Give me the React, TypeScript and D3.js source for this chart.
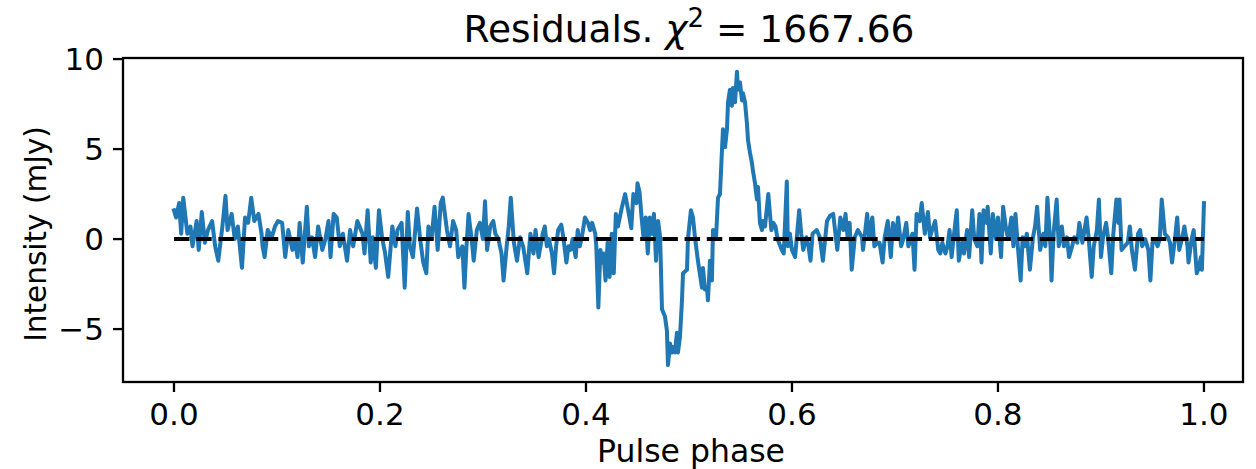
import React from "react";
import * as d3 from "d3";

// Pulse phase of each residual sample
const phase = [
  0.000, 0.002, 0.005, 0.007, 0.009, 0.013, 0.016, 0.018, 0.022, 0.024,
  0.027, 0.030, 0.033, 0.037, 0.040, 0.043, 0.047, 0.050, 0.052, 0.056,
  0.059, 0.062, 0.066, 0.069, 0.072, 0.075, 0.078, 0.082, 0.085, 0.086,
  0.088, 0.091, 0.095, 0.098, 0.101, 0.105, 0.108, 0.111, 0.115, 0.117,
  0.120, 0.122, 0.125, 0.129, 0.131, 0.134, 0.137, 0.140, 0.144, 0.147,
  0.150, 0.152, 0.155, 0.158, 0.161, 0.164, 0.168, 0.171, 0.174, 0.178,
  0.183, 0.185, 0.188, 0.191, 0.193, 0.196, 0.199, 0.202, 0.205, 0.208,
  0.212, 0.215, 0.217, 0.221, 0.224, 0.227, 0.229, 0.232, 0.236, 0.239,
  0.242, 0.245, 0.247, 0.250, 0.253, 0.256, 0.259, 0.261, 0.265, 0.268,
  0.271, 0.274, 0.276, 0.280, 0.282, 0.284, 0.286, 0.289, 0.291, 0.294,
  0.297, 0.300, 0.302, 0.304, 0.307, 0.310, 0.312, 0.315, 0.318, 0.320,
  0.323, 0.325, 0.327, 0.330, 0.333, 0.336, 0.339, 0.343, 0.346, 0.349,
  0.351, 0.354, 0.358, 0.360, 0.362, 0.364, 0.367, 0.369, 0.371, 0.373,
  0.376, 0.378, 0.381, 0.383, 0.385, 0.387, 0.390, 0.392, 0.394, 0.396,
  0.399, 0.402, 0.404, 0.406, 0.409, 0.410, 0.412, 0.414, 0.416, 0.417,
  0.419, 0.421, 0.423, 0.425, 0.427, 0.429, 0.431, 0.435, 0.438, 0.441,
  0.444, 0.446, 0.449, 0.450, 0.452, 0.454, 0.456, 0.458, 0.460, 0.462,
  0.464, 0.466, 0.468, 0.470, 0.472, 0.4738, 0.4767, 0.4786, 0.4796, 0.4816,
  0.4835, 0.4845, 0.4864, 0.4883, 0.4893, 0.4913, 0.4932, 0.4942, 0.4981, 0.4990,
  0.5019, 0.5039, 0.5058, 0.5087, 0.5126, 0.5136, 0.5155, 0.5175, 0.5184, 0.5204,
  0.5223, 0.5233, 0.5262, 0.5282, 0.5301, 0.5320, 0.5330, 0.5350, 0.5369, 0.5379,
  0.5398, 0.5417, 0.5427, 0.5447, 0.5466, 0.5476, 0.5495, 0.5515, 0.5524, 0.5544,
  0.5563, 0.5573, 0.5592, 0.5612, 0.5621, 0.5641, 0.5660, 0.5670, 0.5689, 0.5709,
  0.5718, 0.5738, 0.577, 0.580, 0.582, 0.584, 0.586, 0.590, 0.592, 0.595,
  0.596, 0.598, 0.600, 0.603, 0.605, 0.607, 0.609, 0.611, 0.614, 0.616,
  0.618, 0.620, 0.624, 0.627, 0.630, 0.634, 0.637, 0.640, 0.644, 0.647,
  0.650, 0.652, 0.654, 0.656, 0.658, 0.661, 0.664, 0.668, 0.669, 0.673,
  0.675, 0.678, 0.680, 0.683, 0.685, 0.688, 0.690, 0.693, 0.696, 0.698,
  0.701, 0.703, 0.706, 0.708, 0.711, 0.713, 0.717, 0.719, 0.721, 0.724,
  0.726, 0.729, 0.732, 0.734, 0.736, 0.739, 0.742, 0.744, 0.746, 0.749,
  0.751, 0.753, 0.755, 0.757, 0.760, 0.762, 0.765, 0.767, 0.770, 0.772,
  0.775, 0.777, 0.780, 0.782, 0.784, 0.786, 0.789, 0.790, 0.793, 0.795,
  0.798, 0.800, 0.803, 0.805, 0.808, 0.810, 0.813, 0.815, 0.817, 0.819,
  0.822, 0.824, 0.826, 0.828, 0.831, 0.834, 0.836, 0.838, 0.841, 0.844,
  0.846, 0.848, 0.851, 0.852, 0.854, 0.857, 0.859, 0.862, 0.864, 0.867,
  0.869, 0.872, 0.874, 0.877, 0.879, 0.882, 0.884, 0.886, 0.888, 0.891,
  0.893, 0.896, 0.898, 0.900, 0.902, 0.905, 0.907, 0.910, 0.912, 0.915,
  0.917, 0.918, 0.920, 0.923, 0.926, 0.928, 0.930, 0.933, 0.936, 0.938,
  0.940, 0.943, 0.946, 0.948, 0.950, 0.952, 0.955, 0.957, 0.959, 0.962,
  0.965, 0.967, 0.969, 0.972, 0.974, 0.976, 0.979, 0.981, 0.984, 0.985,
  0.988, 0.990, 0.993, 0.995, 0.997, 0.998, 1.000,
];

// Residual intensity (mJy) at each phase
const intensity = [
  1.6, 1.2, 2.0, 0.3, 2.3, 0.3, 0.7, -0.4, 1.0, -0.6,
  1.5, -0.2, 0.5, 1.0, -0.4, -1.2, 0.7, 2.4, 0.5, 1.4,
  0.0, 0.7, -1.6, 1.2, 0.9, 2.3, 1.0, 1.4, 0.3, -0.4,
  -1.0, 0.5, 0.1, 0.7, 1.0, 0.9, -1.0, 0.5, -0.6, 0.0,
  -1.0, 0.9, -1.3, 1.8, -0.4, 0.1, -1.0, 0.7, -0.6, 0.0,
  1.0, -1.0, 1.4, 1.2, -0.4, 0.3, -1.2, 0.5, -0.4, 1.0,
  0.3, -0.8, 1.6, -1.3, 0.1, -1.6, 1.6, 0.1, -0.8, -2.1,
  0.7, -0.4, 0.5, 0.9, -2.7, 1.5, -0.4, -1.0, 1.7, 0.0,
  -1.3, -1.9, 0.7, 0.0, 1.8, -0.6, 2.0, 2.3, 0.5, -0.4,
  1.0, 0.5, -1.0, -0.4, -2.7, -0.4, 1.4, 0.0, -1.2, 0.5,
  0.9, 0.0, 2.1, -0.6, 0.7, 1.0, 0.3, 0.0, -0.8, -2.3,
  -0.4, 0.7, 2.3, -0.2, -1.2, 0.1, -0.4, -1.9, 0.3, -0.8,
  0.5, -1.0, 0.3, 0.7, -0.4, 0.0, -0.8, -1.9, -0.4, 0.5,
  0.8, 0.1, -1.3, -0.4, -0.6, 0.0, -1.0, 0.5, -0.4, 0.1,
  1.2, 0.9, 0.5, 0.9, 0.3, -0.4, -3.8, -0.6, -1.3, -0.8,
  -2.3, -0.2, -2.1, 0.3, -1.9, 1.4, 0.7, 1.8, 2.5, 1.6,
  0.6, 2.5, 2.0, 3.1, 2.6, 1.2, 0.0, 1.2, -0.8, 1.2,
  0.3, 1.4, -1.2, 1.0, 0.1, -3.9, -4.3, -5.1, -7.0, -5.8,
  -6.3, -6.0, -6.3, -5.2, -6.3, -5.4, -3.4, -1.9, -1.7, 0.0,
  1.6, 1.2, 0.1, -1.2, -2.7, -1.6, -2.8, -2.7, -3.4, -1.2,
  -2.3, 0.5, 0.0, 2.3, 2.5, 4.9, 6.1, 5.1, 6.1, 7.6,
  8.3, 7.4, 8.4, 7.6, 9.3, 8.3, 8.7, 7.7, 8.1, 7.6,
  6.4, 5.5, 4.8, 4.2, 3.8, 3.1, 2.2, 2.9, 0.9, 0.5,
  1.0, 0.7, 2.5, 0.5, 0.9, 0.7, 0.0, -0.6, -0.8, 3.2,
  -0.4, 0.3, -0.6, -1.0, 0.3, 1.6, 0.3, -0.6, 0.1, -0.4,
  -1.2, 0.3, 0.5, 0.1, -1.2, 1.0, 1.3, 1.4, -0.6, 1.2,
  0.5, 1.4, 0.1, 0.9, -1.7, 0.1, 0.5, 0.1, -0.6, 1.4,
  0.0, 1.2, -0.4, -0.2, -0.2, -1.3, 0.1, 1.0, -1.0, 0.9,
  0.1, 1.2, -0.4, 0.0, 0.9, -0.4, 0.3, -1.7, 1.4, 1.0,
  2.0, 0.3, 1.5, 0.1, 0.5, 1.0, -0.6, -0.8, -0.2, -0.8,
  -0.4, 0.5, -1.0, 0.1, 1.6, -1.2, -0.2, -0.8, 0.5, -1.0,
  1.6, 0.0, -0.4, 1.4, -1.3, 1.6, 0.9, 1.8, -0.8, 1.4,
  0.0, 1.2, -1.0, 1.8, 0.5, 0.0, 1.2, -0.4, 1.4, -0.2,
  -2.3, 0.1, -0.4, 0.3, -1.7, 0.1, 0.7, 1.8, -0.6, 0.3,
  -0.4, 2.3, -0.4, -2.3, 0.3, 2.2, -0.4, 0.7, -0.4, 0.1,
  -1.0, -0.4, 0.1, -0.2, 0.9, -0.2, 0.5, 1.2, 0.1, -2.1,
  -0.4, 0.5, 2.2, -1.0, 0.1, 0.9, 0.0, -1.9, 0.3, 2.2,
  0.9, 2.2, -0.6, -0.4, -0.2, 0.7, -0.6, -1.7, 0.3, 0.5,
  -0.4, 0.0, -0.6, -2.3, -0.2, 0.0, -0.4, 0.0, 2.2, 0.3,
  0.1, -0.2, -1.3, 0.1, 1.2, -0.6, 0.1, 0.7, -0.4, -1.3,
  0.0, 0.5, -1.9, -1.6, -1.0, -1.7, 2.0,
];

// Dashed zero reference line
const refPhase = [0, 1];
const refValue = [0, 0];

const xTicks = [0, 0.2, 0.4, 0.6, 0.8, 1.0];
const xTickLabels = ["0.0", "0.2", "0.4", "0.6", "0.8", "1.0"];
const yTicks = [-5, 0, 5, 10];
const yTickLabels = ["\u22125", "0", "5", "10"];

const titleText = "Residuals. ";
const titleValue = " = 1667.66";
const xLabel = "Pulse phase";
const yLabel = "Intensity (mJy)";

const W = 1256;
const H = 469;
const left = 123;
const right = 1243;
const top = 58;
const bottom = 382;
const FONT = "'DejaVu Sans', sans-serif";

export default function App() {
  const x = d3.scaleLinear().domain([-0.0495, 1.0379]).range([left, right]);
  const y = d3.scaleLinear().domain([-7.94, 10.06]).range([bottom, top]);

  const pts: [number, number][] = phase.map((p, i) => [p, intensity[i]]);
  const line = d3
    .line<[number, number]>()
    .x((d) => x(d[0]))
    .y((d) => y(d[1]));
  const refPts: [number, number][] = refPhase.map((p, i) => [p, refValue[i]]);

  const tickLen = 10;
  const tickW = 2.3;
  const fs = 31;

  return (
    <svg
      width={W}
      height={H}
      style={{ position: "absolute", left: 0, top: 0, background: "#fff" }}
      fontFamily={FONT}
    >
      <defs>
        <clipPath id="plotclip">
          <rect x={left} y={top} width={right - left} height={bottom - top} />
        </clipPath>
      </defs>
      <rect x={0} y={0} width={W} height={H} fill="#fff" />
      <g clipPath="url(#plotclip)">
        <path
          d={line(pts) || ""}
          fill="none"
          stroke="#1f77b4"
          strokeWidth={4}
          strokeLinejoin="round"
          strokeLinecap="square"
        />
        <path
          d={line(refPts) || ""}
          fill="none"
          stroke="#000"
          strokeWidth={4}
          strokeDasharray="15.5,6.7"
        />
      </g>
      <rect
        x={left}
        y={top}
        width={right - left}
        height={bottom - top}
        fill="none"
        stroke="#000"
        strokeWidth={tickW}
      />
      {xTicks.map((t, i) => (
        <g key={"x" + i}>
          <line
            x1={x(t)}
            x2={x(t)}
            y1={bottom}
            y2={bottom + tickLen}
            stroke="#000"
            strokeWidth={tickW}
          />
          <text
            x={x(t)}
            y={bottom + tickLen + 10 + fs * 0.74}
            textAnchor="middle"
            fontSize={fs}
            fill="#000"
          >
            {xTickLabels[i]}
          </text>
        </g>
      ))}
      {yTicks.map((t, i) => (
        <g key={"y" + i}>
          <line
            x1={left - tickLen}
            x2={left}
            y1={y(t)}
            y2={y(t)}
            stroke="#000"
            strokeWidth={tickW}
          />
          <text
            x={left - tickLen - 9}
            y={y(t) + fs * 0.36}
            textAnchor="end"
            fontSize={fs}
            fill="#000"
          >
            {yTickLabels[i]}
          </text>
        </g>
      ))}
      <text
        x={691}
        y={462}
        textAnchor="middle"
        fontSize={31.5}
        fill="#000"
      >
        {xLabel}
      </text>
      <text
        transform={`translate(${46},${234}) rotate(-90)`}
        textAnchor="middle"
        fontSize={29.5}
        fill="#000"
      >
        {yLabel}
      </text>
      <text
        x={(left + right) / 2 + 6}
        y={42}
        textAnchor="middle"
        fontSize={37.5}
        fill="#000"
      >
        {titleText}
        <tspan fontStyle="italic">{"\u03c7"}</tspan>
        <tspan fontSize={26} dy={-15}>
          2
        </tspan>
        <tspan dy={15}>{titleValue}</tspan>
      </text>
    </svg>
  );
}
